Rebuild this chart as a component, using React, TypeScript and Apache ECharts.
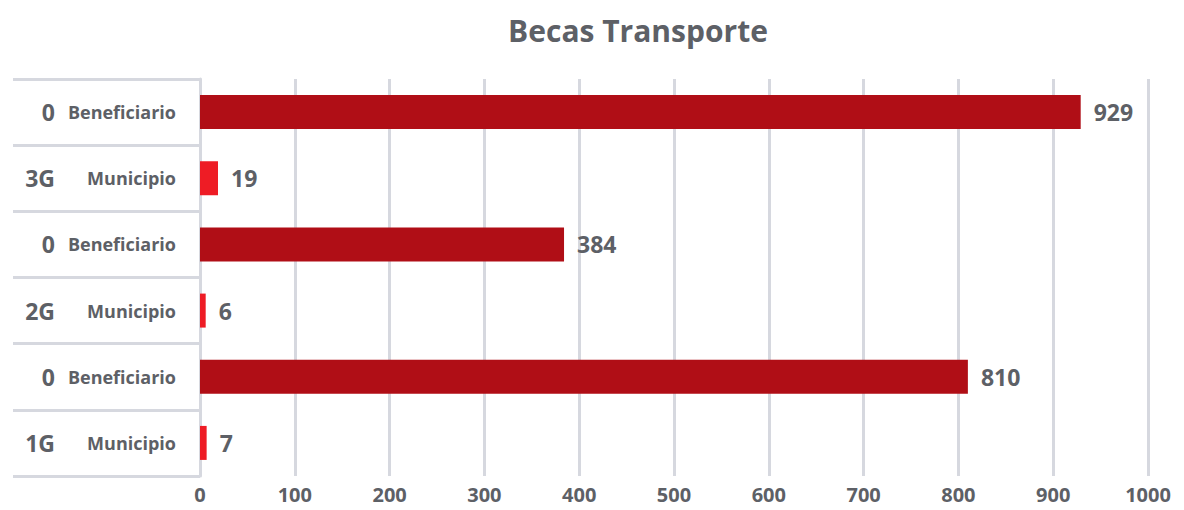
import React, { useEffect, useRef } from "react";
import * as echarts from "echarts";

const groupLabels = ["0", "3G", "0", "2G", "0", "1G"];
const typeLabels = ["Beneficiario", "Municipio", "Beneficiario", "Municipio", "Beneficiario", "Municipio"];
const values = [929, 19, 384, 6, 810, 7];
const xTicks = [0, 100, 200, 300, 400, 500, 600, 700, 800, 900, 1000];

const TEXT = "#5d6066";
const LINE = "#d6d8df";
const FONT = "'Open Sans', 'Noto Sans', sans-serif";
const typeColors: Record<string, string> = {
  Beneficiario: "#b00e16",
  Municipio: "#ee1c25",
};

export default function App() {
  const ref = useRef<HTMLDivElement>(null);
  useEffect(() => {
    if (!ref.current) return;
    const chart = echarts.init(ref.current, null, { renderer: "svg" });
    const categories = groupLabels.map((g, i) => `${g}|${typeLabels[i]}`);
    chart.setOption({
      animation: false,
      title: {
        text: "Becas Transporte",
        left: 633,
        textAlign: "center",
        top: 10,
        textStyle: { color: TEXT, fontSize: 30, fontWeight: "bold", fontFamily: FONT },
      },
      grid: { left: 200, right: 36, top: 79, bottom: 34 },
      xAxis: {
        type: "value",
        min: xTicks[0],
        max: xTicks[xTicks.length - 1],
        interval: 100,
        axisLine: { show: false },
        axisTick: { show: false },
        splitLine: { show: true, lineStyle: { color: LINE, width: 3 } },
        axisLabel: {
          color: TEXT,
          fontSize: 20,
          fontWeight: "bold",
          fontFamily: FONT,
          margin: 8,
          lineHeight: 20,
          formatter: (v: number) => String(v),
        },
      },
      yAxis: {
        type: "category",
        inverse: true,
        data: categories,
        axisLine: { show: true, lineStyle: { color: LINE, width: 3 } },
        axisTick: { show: true, length: 187, lineStyle: { color: LINE, width: 3 } },
        axisLabel: {
          margin: 24,
          formatter: (v: string) => {
            const [g, t] = v.split("|");
            return `{a|${g}}{b|${t}}`;
          },
          rich: {
            a: { color: TEXT, fontSize: 23, fontWeight: "bold", fontFamily: FONT, width: 40, align: "right" },
            b: { color: TEXT, fontSize: 18, fontWeight: "bold", fontFamily: FONT, width: 121, align: "right" },
          },
        },
      },
      series: [
        {
          type: "bar",
          barWidth: 34,
          data: values.map((v, i) => ({
            value: v,
            itemStyle: { color: typeColors[typeLabels[i]] },
          })),
          label: {
            show: true,
            position: "right",
            distance: 13,
            color: TEXT,
            fontSize: 23,
            fontWeight: "bold",
            fontFamily: FONT,
          },
        },
      ],
    });
    return () => chart.dispose();
  }, []);
  return <div ref={ref} style={{ width: 1184, height: 510, position: "absolute", left: 0, top: 0 }} />;
}
